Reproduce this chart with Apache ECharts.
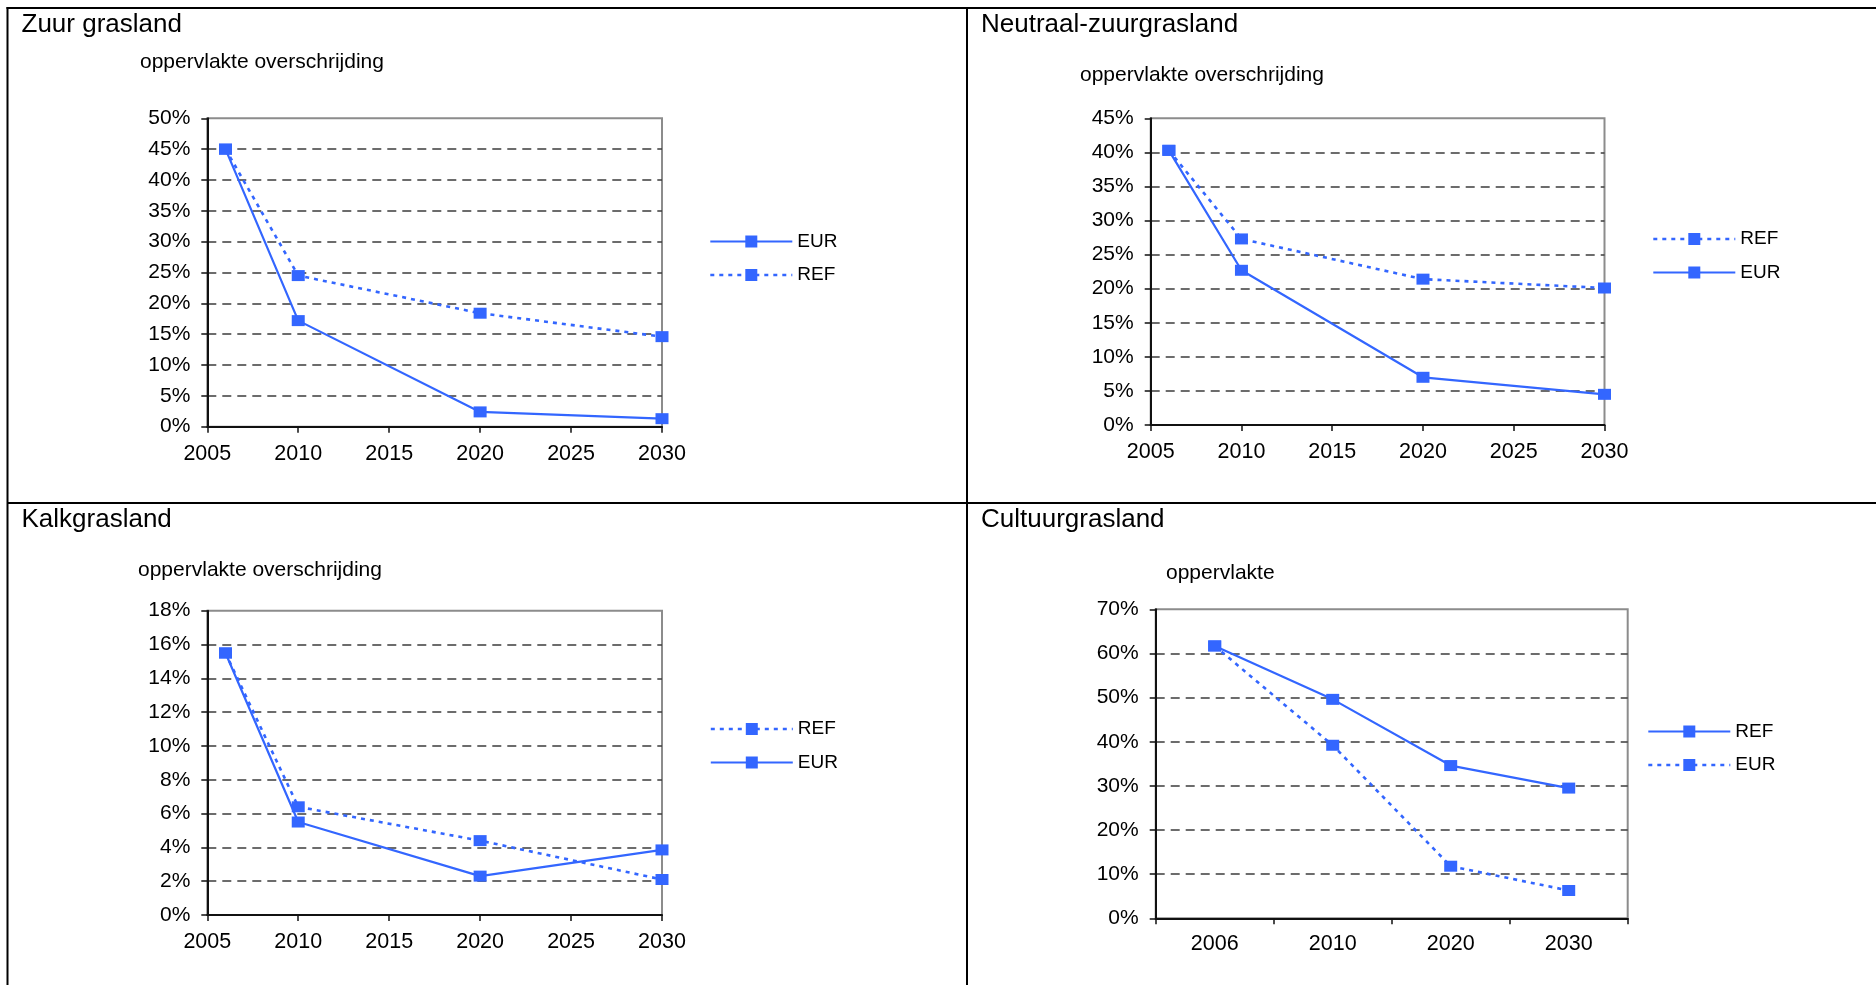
<!DOCTYPE html>
<html>
<head>
<meta charset="utf-8">
<script src="https://cdn.jsdelivr.net/npm/echarts@6/dist/echarts.min.js"></script>
<style>
  html, body { margin: 0; padding: 0; background: #ffffff; }
  #chart { width: 1876px; height: 985px; }
</style>
</head>
<body>
<div id="chart"></div>
<script>
// ---- data (percentages) ----
const years = [2006, 2010, 2020, 2030];
const cultuurCategories = ['2006', '2010', '2020', '2030'];

const zuurEUR = [45.0, 17.2, 2.4, 1.3];
const zuurREF = [45.0, 24.5, 18.4, 14.6];

const neutraalREF = [40.3, 27.3, 21.4, 20.1];
const neutraalEUR = [40.3, 22.7, 7.0, 4.5];

const kalkREF = [15.5, 6.4, 4.4, 2.1];
const kalkEUR = [15.5, 5.5, 2.3, 3.85];

const cultuurREF = [61.7, 49.6, 34.6, 29.5];
const cultuurEUR = [61.7, 39.2, 11.8, 6.3];

// axis ranges
const yearAxisMin = 2005, yearAxisMax = 2030, yearAxisStep = 5;
const yMax = [50, 45, 18, 70];
const yStep = [5, 5, 2, 10];

const panelTitles = ['Zuur grasland', 'Neutraal-zuurgrasland', 'Kalkgrasland', 'Cultuurgrasland'];
const panelSubtitles = ['oppervlakte overschrijding', 'oppervlakte overschrijding', 'oppervlakte overschrijding', 'oppervlakte'];

// ---- styling / layout ----
const BLUE = '#3366ff';
const FONT = "'Liberation Sans', Arial, Helvetica, sans-serif";
const solidLine = { color: BLUE, width: 2.2, type: 'solid' };
const dottedLine = { color: BLUE, width: 2.6, type: [4, 5] };

const grids = [
  { left: 207.3, top: 118.3, width: 454.7, height: 308.4 },
  { left: 1150.7, top: 118.3, width: 453.8, height: 306.7 },
  { left: 207.3, top: 610.7, width: 454.7, height: 304.3 },
  { left: 1155.7, top: 609.3, width: 472, height: 309 }
];

const legendPos = [
  { left: 709, top: 232 },
  { left: 1652, top: 229.5 },
  { left: 709.5, top: 719.5 },
  { left: 1647, top: 722 }
];

const titlePos = [[21.5, 25], [981, 25], [21.5, 519.5], [981, 520]];
const subtitlePos = [[140, 62], [1080, 75], [138, 570], [1166, 573]];

function pairs(values) {
  return values.map((v, i) => [years[i], v]);
}

function lineSeries(name, idx, data, dotted) {
  return {
    name: name,
    type: 'line',
    xAxisIndex: idx,
    yAxisIndex: idx,
    data: data,
    symbol: 'rect',
    symbolSize: [13, 11],
    showSymbol: true,
    itemStyle: { color: BLUE },
    lineStyle: dotted ? dottedLine : solidLine,
    animation: false,
    z: dotted ? 3 : 4
  };
}

function legendItem(name, dotted) {
  return {
    name: name,
    lineStyle: dotted ? { type: [4, 5], width: 2.6, color: BLUE } : { type: 'solid', width: 2.2, color: BLUE },
    itemStyle: { color: BLUE }
  };
}

function legend(idx, items) {
  return {
    orient: 'vertical',
    left: legendPos[idx].left,
    top: legendPos[idx].top,
    padding: 0,
    itemWidth: 82,
    itemHeight: 15,
    itemGap: 14.5,
    selectedMode: false,
    textStyle: { fontSize: 19, fontFamily: FONT, color: '#000' },
    data: items
  };
}

const axisLineStyle = { show: true, lineStyle: { color: '#111', width: 2 } };
const axisTickStyle = { show: true, length: 6, inside: false, lineStyle: { color: '#111', width: 1.5 } };

function yAxis(idx) {
  return {
    type: 'value',
    gridIndex: idx,
    min: 0,
    max: yMax[idx],
    interval: yStep[idx],
    axisLine: axisLineStyle,
    axisTick: axisTickStyle,
    axisLabel: {
      formatter: '{value}%',
      fontSize: 21,
      fontFamily: FONT,
      color: '#000',
      margin: 17
    },
    splitLine: {
      show: true,
      showMaxLine: false,
      lineStyle: { color: '#3c3c3c', width: 1.5, type: [9, 6] }
    }
  };
}

function yearAxis(idx) {
  return {
    type: 'value',
    gridIndex: idx,
    min: yearAxisMin,
    max: yearAxisMax,
    interval: yearAxisStep,
    axisLine: axisLineStyle,
    axisTick: axisTickStyle,
    axisLabel: {
      formatter: v => String(v),
      fontSize: 21.5,
      fontFamily: FONT,
      color: '#000',
      margin: 16
    },
    splitLine: { show: false }
  };
}

const gridStyle = { show: true, borderColor: '#8c8c8c', borderWidth: 2, backgroundColor: 'transparent' };

const graphics = [];
// table borders
const border = { stroke: '#000', lineWidth: 2 };
graphics.push({ type: 'line', shape: { x1: 6.5, y1: 8, x2: 1876, y2: 8 }, style: border, silent: true });
graphics.push({ type: 'line', shape: { x1: 7.5, y1: 7, x2: 7.5, y2: 985 }, style: border, silent: true });
graphics.push({ type: 'line', shape: { x1: 967, y1: 7, x2: 967, y2: 985 }, style: border, silent: true });
graphics.push({ type: 'line', shape: { x1: 7, y1: 503, x2: 1876, y2: 503 }, style: border, silent: true });

panelTitles.forEach((t, i) => {
  graphics.push({
    type: 'text', x: titlePos[i][0], y: titlePos[i][1], silent: true,
    style: { text: t, fontSize: 26, fontFamily: FONT, fill: '#000', align: 'left', verticalAlign: 'middle' }
  });
});
panelSubtitles.forEach((t, i) => {
  graphics.push({
    type: 'text', x: subtitlePos[i][0], y: subtitlePos[i][1], silent: true,
    style: { text: t, fontSize: 21, fontFamily: FONT, fill: '#000', align: 'left', verticalAlign: 'middle' }
  });
});

const option = {
  backgroundColor: '#ffffff',
  animation: false,
  grid: grids.map(g => Object.assign({}, g, gridStyle)),
  xAxis: [
    yearAxis(0),
    yearAxis(1),
    yearAxis(2),
    {
      type: 'category',
      gridIndex: 3,
      data: cultuurCategories,
      boundaryGap: true,
      axisLine: axisLineStyle,
      axisTick: axisTickStyle,
      axisLabel: { fontSize: 21.5, fontFamily: FONT, color: '#000', margin: 15 },
      splitLine: { show: false }
    }
  ],
  yAxis: [yAxis(0), yAxis(1), yAxis(2), yAxis(3)],
  legend: [
    legend(0, [legendItem('EUR', false), legendItem('REF', true)]),
    legend(1, [legendItem('REF', true), legendItem('EUR', false)]),
    legend(2, [legendItem('REF', true), legendItem('EUR', false)]),
    legend(3, [legendItem('REF', false), legendItem('EUR', true)])
  ],
  series: [
    lineSeries('EUR', 0, pairs(zuurEUR), false),
    lineSeries('REF', 0, pairs(zuurREF), true),
    lineSeries('REF', 1, pairs(neutraalREF), true),
    lineSeries('EUR', 1, pairs(neutraalEUR), false),
    lineSeries('REF', 2, pairs(kalkREF), true),
    lineSeries('EUR', 2, pairs(kalkEUR), false),
    lineSeries('REF', 3, cultuurREF, false),
    lineSeries('EUR', 3, cultuurEUR, true)
  ],
  graphic: graphics
};

const chart = echarts.init(document.getElementById('chart'), null, { renderer: 'canvas' });
chart.setOption(option);
</script>
</body>
</html>
